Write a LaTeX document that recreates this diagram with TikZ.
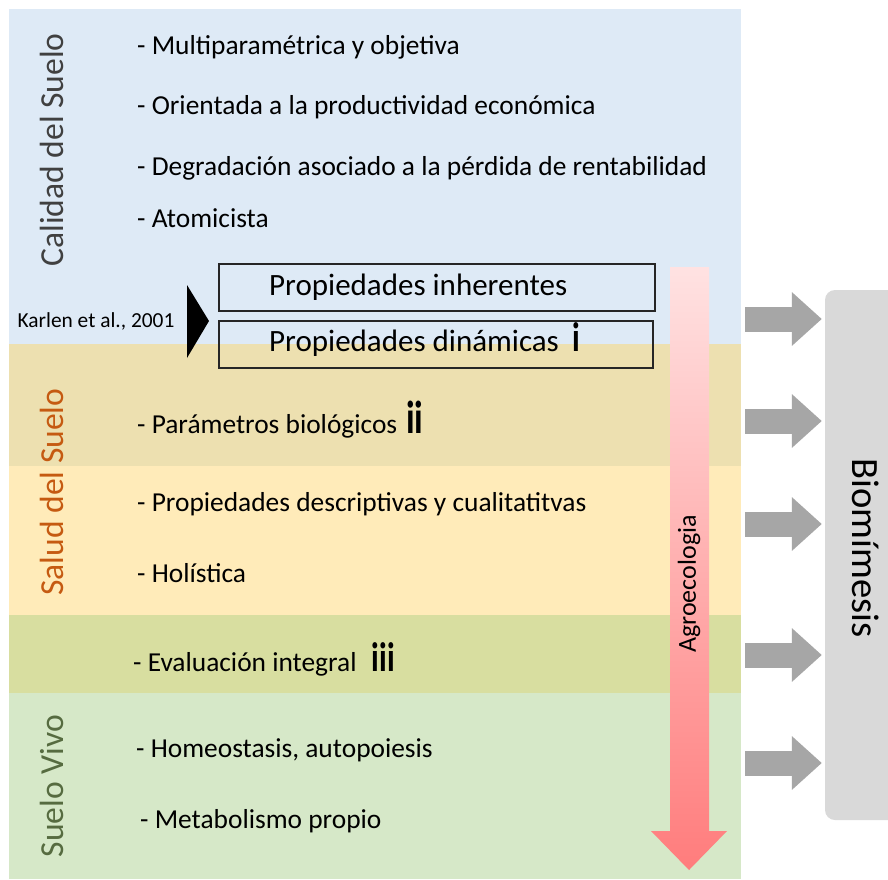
\documentclass[tikz,border=0pt]{standalone}
\usepackage{graphicx}
\usepackage{fontspec}
\setmainfont{Carlito}
\usetikzlibrary{arrows.meta,positioning}

\definecolor{calidadbg}{HTML}{DEEAF6}
\definecolor{biolbg}{HTML}{EDE0B0}
\definecolor{descbg}{HTML}{FFEBB9}
\definecolor{integbg}{HTML}{D8DEA0}
\definecolor{vivobg}{HTML}{D6E8C8}
\definecolor{calidadtxt}{HTML}{404040}
\definecolor{saludtxt}{HTML}{C55A11}
\definecolor{vivotxt}{HTML}{566B40}
\definecolor{arrowgray}{HTML}{A6A6A6}
\definecolor{biogray}{HTML}{D9D9D9}
\definecolor{agrotop}{HTML}{FFE2E2}
\definecolor{agrobot}{HTML}{FF7C7C}

\tikzset{
  item/.style={anchor=west,inner sep=0pt,font=\fontsize{27.4}{32}\selectfont},
  sidelabel/.style={rotate=90,inner sep=0pt,font=\fontsize{33.6}{38}\selectfont},
  propbox/.style={draw=black!85,line width=1.2pt,minimum width=436pt,minimum height=47pt,inner sep=0pt},
  proptext/.style={anchor=west,inner sep=0pt,font=\fontsize{31}{36}\selectfont},
  grayarrow/.style={draw=arrowgray,line width=25pt,-{Triangle[length=30pt,width=52pt]},shorten >=3pt},
  biobox/.style={fill=biogray,rounded corners=10pt,minimum width=90pt,minimum height=530pt,inner sep=0pt}
}
% roman numerals: gap, size, text
\newcommand{\rom}[3]{\hspace{#1}\scalebox{0.95}[1.25]{\fontsize{#2}{#2}\selectfont\bfseries #3}}

\begin{document}
\begin{tikzpicture}[x=1pt,y=-1pt]
\clip (0,0) rectangle (888,879);
\fill[white] (0,0) rectangle (888,879);
% bands
\fill[calidadbg] (9,9) rectangle (741,344);
\fill[biolbg] (9,344) rectangle (741,466);
\fill[descbg] (9,466) rectangle (741,615);
\fill[integbg] (9,615) rectangle (741,693);
\fill[vivobg] (9,693) rectangle (741,879);
% side labels
\node[sidelabel,text=calidadtxt] (calidad) at (52,150) {Calidad del Suelo};
\node[sidelabel,text=saludtxt] (salud) at (52,492) {Salud del Suelo};
\node[sidelabel,text=vivotxt] (vivo) at (52,786) {Suelo Vivo};
% items
\node[item] (multi) at (137,47) {- Multiparamétrica y objetiva};
\node[item] (orient) at (137,107) {- Orientada a la productividad económica};
\node[item] (degrad) at (137,168) {- Degradación asociado a la pérdida de rentabilidad};
\node[item] (atom) at (137,218) {- Atomicista};
\node[item] (param) at (137,420) {- Parámetros biológicos\rom{9pt}{37}{ii}};
\node[item] (descr) at (137,504) {- Propiedades descriptivas y cualitatitvas};
\node[item] (holis) at (137,573) {- Holística};
\node[item] (evalu) at (133,659) {- Evaluación integral\rom{15pt}{33}{iii}};
\node[item] (homeo) at (136,750) {- Homeostasis, autopoiesis};
\node[item] (metab) at (140,821) {- Metabolismo propio};
% Karlen
\node[propbox] (inher) at (437,287.5) {};
\node[propbox,minimum width=434pt] (dinam) at (436,344.5) {};
\node[proptext] (inhertxt) at (269,287) {Propiedades inherentes};
\node[proptext] (dinamtxt) at (269,340) {Propiedades dinámicas\rom{14pt}{33}{i}};
\fill[black] (187,285) -- (209,321) -- (187,358) -- cycle;
\node[inner sep=0pt,font=\fontsize{21.4}{24}\selectfont] (karlen) at (96,321) {Karlen et al., 2001};
% agroecologia
\shade[top color=agrotop,bottom color=agrobot] (670,267) -- (709,267) -- (709,831) -- (727,831) -- (689,870) -- (651,831) -- (670,831) -- cycle;
\node[rotate=90,inner sep=0pt,font=\fontsize{26}{30}\selectfont] (agro) at (689,584) {Agroecologia};
% biomimesis
\node[biobox] (bio) at (870,555) {};
\node[rotate=-90,inner sep=0pt,font=\fontsize{38.6}{44}\selectfont] (biotxt) at (866,548) {Biomímesis};
\foreach \y [count=\i] in {319,421,524,655,763} {
  \coordinate (g\i) at (745,\y);
  \draw[grayarrow] (g\i) -- (bio.west |- g\i);
}
\end{tikzpicture}
\end{document}
